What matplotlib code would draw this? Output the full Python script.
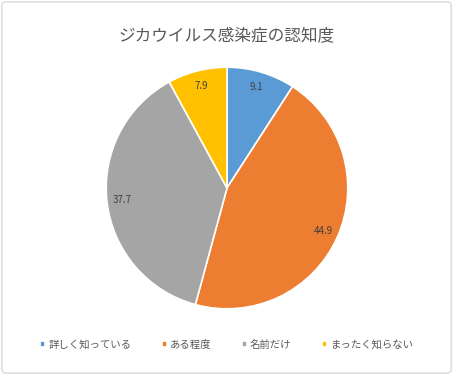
import matplotlib
matplotlib.use('Agg')
import matplotlib.pyplot as plt
from matplotlib.patches import FancyBboxPatch

plt.rcParams['font.family'] = ['Noto Sans CJK JP', 'DejaVu Sans']

# data
categories = ['詳しく知っている', 'ある程度', '名前だけ', 'まったく知らない']
values = [9.1, 44.9, 37.7, 7.9]
colors = ['#5B9BD5', '#ED7D31', '#A5A5A5', '#FFC000']

fig = plt.figure(figsize=(4.53, 3.75), dpi=100)

# light frame around the chart
frame = FancyBboxPatch((0.004, 0.005), 0.992, 0.99, boxstyle='round,pad=0,rounding_size=0.01',
                       transform=fig.transFigure, facecolor='white', edgecolor='#D9D9D9',
                       linewidth=1.0, zorder=-10)
fig.patches.append(frame)

ax = fig.add_axes([227/453 - 122/453, 1 - (188 + 122)/375, 244/453, 244/375])
ax.set_zorder(1)
wedges, texts = ax.pie(values, colors=colors, startangle=90, counterclock=False,
                       labels=[f'{v:.1f}' for v in values], labeldistance=0.87,
                       wedgeprops=dict(edgecolor='white', linewidth=1.2),
                       textprops=dict(fontsize=7, color='#404040'))
for t in texts:
    t.set_horizontalalignment('center')
    t.set_verticalalignment('center')
ax.set_xlim(-1.01, 1.01)
ax.set_ylim(-1.01, 1.01)
ax.set_aspect('equal')

fig.text(0.5, 1 - 37/375, 'ジカウイルス感染症の認知度', ha='center', va='center',
         fontsize=12, color='#595959')

leg = fig.legend(wedges, categories, loc='center', bbox_to_anchor=(0.5, 1 - 345/375),
                 ncol=4, frameon=False, fontsize=7.5, handlelength=0.5, handleheight=0.5,
                 handletextpad=0.3, columnspacing=2.9)
for t in leg.get_texts():
    t.set_color('#595959')

fig.savefig('out.png', dpi=100)
